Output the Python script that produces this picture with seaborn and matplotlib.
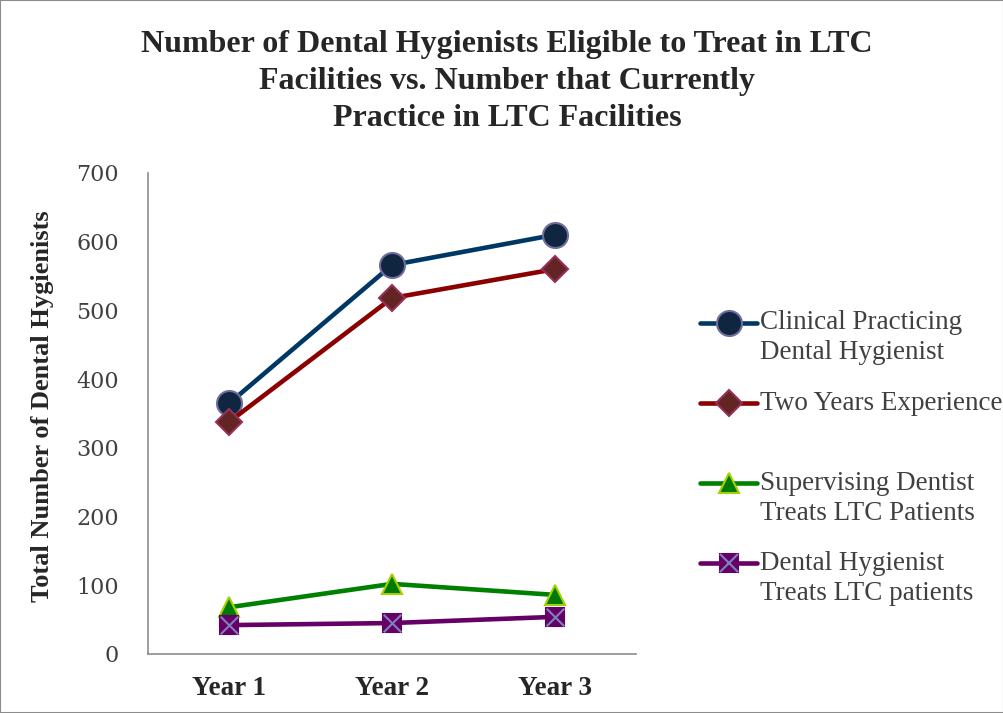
import matplotlib
matplotlib.use('Agg')
import matplotlib.pyplot as plt
import seaborn as sns
import pandas as pd
from matplotlib.legend_handler import HandlerTuple, HandlerLine2D
from matplotlib.patches import Rectangle

# Veriler
years = ['Year 1', 'Year 2', 'Year 3']
clinical = [365, 566, 610]
two_years = [338, 518, 560]
supervising = [68, 102, 86]
hygienist_treats = [42, 45, 54]

series_labels = ['Clinical Practicing\nDental Hygienist',
                 'Two Years Experience\n ',
                 'Supervising Dentist\nTreats LTC Patients',
                 'Dental Hygienist\nTreats LTC patients']

SHIFT = 21.6  # punto: işaretçiyi etiketin ilk satırına taşır


# Legend handles sit on the first text line, like Excel does
class ShiftedLine(HandlerLine2D):
    def create_artists(self, legend, orig_handle, xdescent, ydescent, width, height, fontsize, trans):
        return super().create_artists(legend, orig_handle, xdescent, ydescent - SHIFT,
                                      width, height, fontsize, trans)


class ShiftedTuple(HandlerTuple):
    def create_artists(self, legend, orig_handle, xdescent, ydescent, width, height, fontsize, trans):
        return super().create_artists(legend, orig_handle, xdescent, ydescent - SHIFT,
                                      width, height, fontsize, trans)


sns.set_style('white')
plt.rcParams['font.family'] = ['Liberation Serif', 'DejaVu Serif']

fig = plt.figure(figsize=(10.04, 7.13), dpi=100)
ax = fig.add_axes([0.1474, 0.0828, 0.4861, 0.6746])

df = pd.DataFrame({'year': years})

styles = [
    dict(values=clinical, color='#003865', marker='o', ms=18, mfc='#10253F', mec='#6E6E9E'),
    dict(values=two_years, color='#8B0000', marker='D', ms=13, mfc='#632523', mec='#953159'),
    dict(values=supervising, color='#008000', marker='^', ms=15, mfc='#007A00', mec='#A6D100'),
    dict(values=hygienist_treats, color='#660066', marker='s', ms=13, mfc='#660066', mec='#660066'),
]

handles = []
for st in styles:
    df['value'] = st['values']
    sns.lineplot(data=df, x='year', y='value', ax=ax, color=st['color'], lw=3.3,
                 marker=st['marker'], markersize=st['ms'], markerfacecolor=st['mfc'],
                 markeredgecolor=st['mec'], markeredgewidth=1.5, sort=False)
    handles.append(ax.lines[-1])

# Purple square markers get an X drawn on top
df['value'] = hygienist_treats
sns.scatterplot(data=df, x='year', y='value', ax=ax, marker='x', s=160,
                color='#8080C0', linewidth=1.5, zorder=5)
x_handle = plt.Line2D([], [], ls='none', marker='x', ms=12.5, mec='#8080C0', mew=1.5)
purple_handle = (handles[3], x_handle)
handles[3] = purple_handle

ax.set_xlim(-0.5, 2.5)
ax.set_ylim(0, 700)
ax.set_yticks(range(0, 701, 100))
ax.set_xlabel('')
ax.set_ylabel('Total Number of Dental Hygienists', fontsize=19, fontweight='bold')
ax.yaxis.set_label_coords(-0.192, 0.515)
ax.tick_params(axis='both', length=0)
for lab in ax.get_yticklabels():
    lab.set_family('DejaVu Serif')
    lab.set_fontsize(16)
    lab.set_color('#404040')
for lab in ax.get_xticklabels():
    lab.set_fontsize(19.5)
    lab.set_fontweight('bold')
ax.tick_params(axis='y', pad=21)
ax.tick_params(axis='x', pad=16)

for side in ['top', 'right']:
    ax.spines[side].set_visible(False)
for side in ['left', 'bottom']:
    ax.spines[side].set_color('#8C8C8C')
    ax.spines[side].set_linewidth(1.2)

fig.text(0.505, 0.958,
         'Number of Dental Hygienists Eligible to Treat in LTC\n'
         'Facilities vs. Number that Currently\nPractice in LTC Facilities',
         ha='center', va='top', fontsize=23, fontweight='bold', linespacing=1.37)

leg = ax.legend(handles, series_labels, loc='upper left', bbox_to_anchor=(1.082, 0.765),
                frameon=False, fontsize=19.5, handlelength=2.1, handletextpad=0.1,
                labelspacing=0.93, labelcolor='#404040',
                handler_map={handles[0]: ShiftedLine(), handles[1]: ShiftedLine(),
                             handles[2]: ShiftedLine(),
                             purple_handle: ShiftedTuple(ndivide=1, pad=0)})
for t in leg.get_texts():
    t.set_linespacing(1.26)

fig.patches.append(Rectangle((0, 0), 1, 1, transform=fig.transFigure, fill=False,
                             edgecolor='#8C8C8C', lw=1.5))

plt.savefig('out.png', dpi=100)
